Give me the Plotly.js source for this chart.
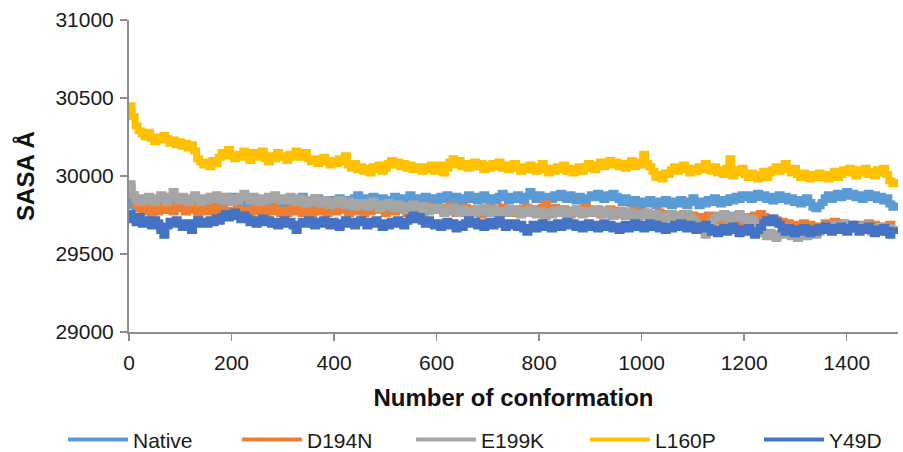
<!DOCTYPE html>
<html>
<head>
<meta charset="utf-8">
<script src="https://cdn.plot.ly/plotly-3.0.1.min.js"></script>
<style>html,body{margin:0;padding:0;background:#fff;}#chart{width:903px;height:452px;}</style>
</head>
<body>
<div id="chart"></div>
<script>
// Conformation sampling step (one value per 6 conformations, 0..1494)
const conformationStep = 6;

const seriesNames = ["Native", "D194N", "E199K", "L160P", "Y49D"];
const seriesColors = ["#5B9BD5", "#ED7D31", "#A5A5A5", "#FFC000", "#4472C4"];

const xTickValues = [0, 200, 400, 600, 800, 1000, 1200, 1400];
const yTickValues = [29000, 29500, 30000, 30500, 31000];

const native = [
29840,29810,29790,29820,29800,29780,29810,29830,29800,29790,29820,29800,29780,29810,29790,29820,29840,29810,29790,29820,29800,29830,29810,29790,29820,
29800,29830,29810,29840,29820,29800,29830,29850,29870,29840,29820,29850,29830,29810,29840,29820,29800,29830,29810,29840,29860,29830,29810,29840,29820,
29850,29830,29860,29840,29820,29850,29870,29840,29820,29850,29830,29860,29840,29810,29840,29820,29850,29830,29860,29840,29820,29850,29830,29860,29880,
29850,29830,29860,29840,29870,29850,29830,29860,29840,29820,29850,29870,29840,29860,29830,29850,29880,29850,29830,29860,29840,29870,29850,29830,29860,
29840,29870,29850,29880,29860,29840,29870,29850,29830,29860,29880,29850,29870,29840,29860,29880,29850,29830,29860,29840,29870,29890,29860,29840,29870,
29850,29880,29860,29840,29870,29900,29870,29850,29880,29860,29840,29870,29850,29880,29860,29890,29870,29850,29880,29860,29840,29870,29850,29830,29860,
29880,29860,29890,29870,29850,29880,29860,29890,29870,29850,29830,29860,29840,29820,29850,29830,29810,29840,29820,29850,29830,29810,29840,29820,29850,
29830,29810,29840,29820,29850,29830,29810,29840,29860,29830,29810,29840,29820,29850,29830,29860,29840,29820,29850,29830,29860,29840,29870,29850,29880,
29860,29880,29850,29870,29890,29860,29880,29850,29870,29840,29860,29880,29850,29870,29840,29860,29830,29850,29820,29840,29860,29830,29800,29790,29810,
29830,29860,29880,29850,29870,29890,29860,29880,29900,29870,29890,29860,29880,29850,29870,29890,29860,29880,29850,29870,29840,29860,29820,29800,29830
];

const d194n = [
29930,29880,29820,29790,29770,29800,29780,29760,29790,29770,29800,29780,29810,29790,29770,29800,29820,29790,29770,29790,29810,29780,29760,29790,29770,
29790,29770,29800,29780,29760,29790,29770,29750,29780,29760,29790,29770,29750,29780,29760,29790,29770,29800,29780,29760,29790,29770,29800,29780,29760,
29780,29760,29790,29770,29800,29780,29760,29790,29770,29750,29780,29800,29770,29790,29760,29780,29800,29770,29790,29810,29780,29760,29790,29770,29800,
29780,29760,29790,29770,29800,29780,29810,29790,29760,29780,29800,29770,29790,29810,29780,29760,29790,29770,29800,29780,29760,29790,29810,29780,29800,
29780,29800,29770,29790,29810,29780,29760,29790,29770,29800,29780,29760,29790,29770,29750,29780,29800,29770,29790,29760,29780,29800,29770,29790,29760,
29780,29760,29790,29770,29800,29780,29760,29790,29770,29800,29820,29790,29770,29800,29780,29760,29790,29770,29750,29780,29760,29790,29770,29800,29780,
29760,29790,29770,29750,29780,29760,29790,29770,29750,29780,29760,29740,29770,29750,29780,29760,29740,29770,29750,29730,29760,29740,29770,29750,29730,
29760,29740,29720,29750,29730,29760,29740,29720,29750,29730,29710,29740,29720,29750,29730,29710,29740,29720,29700,29730,29710,29740,29720,29700,29730,
29710,29740,29720,29750,29730,29760,29740,29710,29730,29700,29720,29690,29710,29680,29700,29670,29690,29660,29680,29700,29670,29690,29660,29680,29650,
29680,29700,29670,29690,29710,29680,29700,29670,29650,29680,29660,29690,29670,29650,29680,29700,29670,29690,29660,29680,29650,29670,29690,29660,29680
];

const e199k = [
29950,29880,29850,29830,29860,29840,29870,29850,29830,29860,29880,29850,29830,29870,29900,29860,29840,29870,29850,29830,29860,29880,29850,29830,29860,
29840,29870,29850,29880,29860,29840,29870,29850,29830,29860,29840,29870,29890,29860,29840,29870,29850,29830,29860,29840,29870,29850,29880,29860,29840,
29860,29840,29870,29850,29830,29860,29840,29820,29850,29830,29860,29840,29820,29850,29830,29810,29840,29820,29850,29830,29810,29840,29820,29800,29830,
29810,29830,29800,29820,29840,29810,29790,29820,29800,29830,29810,29790,29820,29800,29780,29810,29790,29820,29800,29780,29810,29790,29770,29800,29780,
29800,29780,29760,29790,29770,29800,29780,29760,29790,29770,29750,29780,29760,29790,29770,29800,29780,29760,29790,29770,29750,29780,29760,29790,29770,
29790,29770,29750,29780,29760,29790,29770,29750,29780,29760,29740,29770,29750,29780,29760,29790,29770,29750,29780,29760,29790,29770,29750,29780,29760,
29780,29760,29790,29770,29750,29780,29760,29740,29770,29750,29780,29760,29740,29770,29750,29730,29760,29740,29770,29750,29730,29760,29740,29720,29750,
29730,29760,29740,29720,29750,29730,29760,29740,29720,29700,29680,29650,29620,29660,29700,29730,29750,29730,29760,29740,29720,29750,29730,29760,29740,
29720,29700,29730,29700,29680,29650,29630,29610,29640,29620,29600,29630,29650,29620,29640,29610,29630,29600,29620,29640,29610,29630,29650,29620,29640,
29660,29680,29650,29670,29690,29660,29680,29700,29670,29690,29660,29680,29650,29670,29690,29660,29640,29670,29650,29680,29660,29640,29670,29650,29680
];

const l160p = [
30450,30380,30320,30290,30270,30250,30280,30240,30220,30250,30230,30260,30240,30210,30230,30200,30220,30190,30210,30180,30200,30160,30110,30090,30070,
30090,30060,30100,30080,30120,30150,30130,30170,30140,30110,30140,30120,30160,30130,30100,30150,30120,30140,30160,30110,30090,30130,30110,30150,30120,
30130,30100,30140,30120,30160,30140,30120,30150,30110,30090,30110,30080,30100,30120,30090,30070,30100,30080,30110,30090,30130,30070,30050,30080,30040,
30060,30030,30050,30020,30060,30040,30070,30030,30050,30080,30100,30070,30090,30060,30080,30050,30070,30040,30060,30050,30030,30060,30040,30070,30030,
30040,30070,30020,30050,30090,30110,30070,30100,30060,30080,30050,30070,30090,30060,30080,30040,30070,30050,30080,30060,30090,30050,30070,30040,30060,
30080,30050,30030,30060,30040,30070,30050,30030,30060,30080,30040,30020,30050,30030,30060,30040,30070,30030,30050,30020,30040,30060,30030,30050,30080,
30060,30040,30070,30090,30060,30080,30100,30070,30090,30060,30080,30050,30070,30100,30060,30090,30070,30140,30080,30060,30030,29990,30010,29980,30020,
30010,30040,30060,30030,30050,30070,30040,30020,30050,30030,30060,30040,30080,30050,30030,30060,30020,30040,30010,30050,30110,30000,30040,30020,30050,
30010,29990,30020,30000,29980,30010,30030,29990,30020,30040,30060,30030,30050,30080,30040,30020,30050,30010,29990,30020,30000,29980,30010,29990,30020,
29990,30010,29980,30000,30030,29990,30010,30040,30020,30050,30030,30000,30040,30020,30050,30010,30030,30000,30040,30020,30050,30010,29970,29950,29980
];

const y49d = [
29760,29720,29700,29740,29690,29720,29700,29680,29720,29700,29650,29620,29680,29710,29690,29720,29700,29670,29700,29680,29650,29700,29720,29690,29710,
29690,29720,29700,29730,29710,29740,29760,29730,29750,29770,29740,29720,29750,29730,29700,29720,29690,29710,29730,29700,29720,29690,29710,29680,29700,
29720,29690,29710,29680,29650,29690,29710,29690,29720,29700,29680,29710,29690,29720,29700,29680,29710,29690,29670,29700,29720,29690,29710,29680,29700,
29720,29700,29680,29710,29690,29720,29700,29670,29700,29680,29710,29690,29720,29700,29680,29710,29730,29750,29720,29740,29710,29690,29720,29700,29680,
29700,29670,29690,29710,29680,29700,29660,29690,29670,29700,29720,29690,29710,29680,29700,29670,29690,29710,29680,29700,29720,29690,29670,29700,29680,
29700,29670,29690,29660,29640,29670,29690,29660,29680,29700,29670,29690,29660,29680,29700,29670,29690,29710,29680,29700,29670,29690,29660,29680,29700,
29670,29690,29660,29680,29700,29670,29690,29660,29680,29650,29670,29690,29660,29680,29700,29670,29690,29660,29680,29700,29670,29690,29660,29680,29650,
29680,29660,29690,29670,29700,29680,29660,29690,29670,29650,29680,29660,29690,29670,29640,29660,29630,29650,29670,29640,29660,29680,29650,29630,29660,
29640,29670,29650,29620,29650,29670,29700,29720,29700,29730,29710,29690,29660,29640,29670,29650,29630,29660,29640,29670,29650,29630,29660,29640,29670,
29650,29680,29660,29640,29670,29650,29680,29660,29640,29670,29690,29660,29640,29670,29650,29680,29660,29630,29660,29640,29670,29650,29620,29650,29670
];

const seriesValues = [native, d194n, e199k, l160p, y49d];

// Data traces (thick stepped lines, like the dense per-frame noise of the original)
const dataTraces = seriesValues.map((vals, k) => ({
  type: "scatter",
  mode: "lines",
  name: seriesNames[k],
  legendgroup: seriesNames[k],
  showlegend: false,
  x: vals.map((_, i) => i * conformationStep),
  y: vals,
  line: { color: seriesColors[k], width: 7, shape: "hv" },
  hoverinfo: "skip"
}));

// Legend entries with the thinner legend stroke of the original
const legendTraces = seriesNames.map((name, k) => ({
  type: "scatter",
  mode: "lines",
  name: name,
  legendgroup: name,
  showlegend: true,
  x: [null],
  y: [null],
  line: { color: seriesColors[k], width: 4 },
  hoverinfo: "skip"
}));

const axisColor = "#8c8c8c";
const fontFamily = "Liberation Sans, Arial, sans-serif";

const layout = {
  width: 903,
  height: 452,
  margin: { l: 129, r: 5, t: 20, b: 120, autoexpand: false },
  paper_bgcolor: "#fff",
  plot_bgcolor: "#fff",
  showlegend: true,
  xaxis: {
    range: [0, 1500],
    tickvals: xTickValues,
    ticktext: xTickValues.map(String),
    ticks: "outside",
    ticklen: 7,
    tickwidth: 1.5,
    tickcolor: axisColor,
    showline: true,
    linecolor: axisColor,
    linewidth: 2,
    showgrid: false,
    zeroline: false,
    ticklabelstandoff: 4,
    tickfont: { family: fontFamily, size: 21, color: "#1a1a1a" },
    title: { text: "Number of conformation", font: { family: fontFamily, size: 24, color: "#111", weight: "bold" }, standoff: 16 }
  },
  yaxis: {
    range: [29000, 31000],
    tickvals: yTickValues,
    ticktext: yTickValues.map(String),
    ticks: "outside",
    ticklen: 7,
    tickwidth: 1.5,
    tickcolor: axisColor,
    showline: true,
    linecolor: axisColor,
    linewidth: 2,
    showgrid: false,
    zeroline: false,
    ticklabelstandoff: 2,
    tickfont: { family: fontFamily, size: 21, color: "#1a1a1a" },
    title: { text: "SASA Å", font: { family: fontFamily, size: 24, color: "#111", weight: "bold" }, standoff: 14 }
  },
  legend: {
    orientation: "h",
    x: -0.0858,
    xanchor: "left",
    y: -0.346,
    yanchor: "middle",
    itemwidth: 60,
    entrywidth: 99,
    entrywidthmode: "pixels",
    font: { family: fontFamily, size: 21, color: "#1a1a1a" },
    bgcolor: "rgba(0,0,0,0)"
  }
};

Plotly.newPlot("chart", dataTraces.concat(legendTraces), layout, { staticPlot: true, displayModeBar: false });
</script>
</body>
</html>
